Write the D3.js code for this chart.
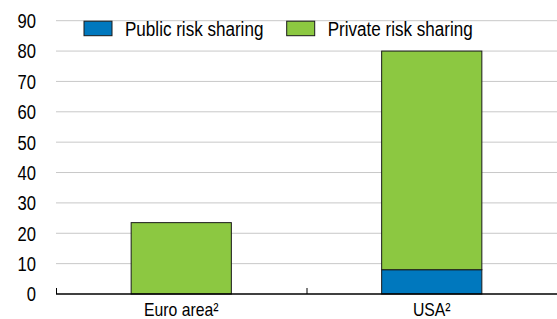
<!DOCTYPE html>
<html>
<head>
<meta charset="utf-8">
<script src="https://cdn.jsdelivr.net/npm/d3@7"></script>
<style>
  body { margin: 0; background: #fff; }
  text { font-family: "Liberation Sans", Arial, sans-serif; fill: #000; }
</style>
</head>
<body>
<div id="chart"></div>
<script>
var categories = ["Euro area²", "USA²"];
var publicShare = [0, 8];
var privateShare = [23.5, 72];
var seriesNames = ["Public risk sharing", "Private risk sharing"];
var yTicks = [0, 10, 20, 30, 40, 50, 60, 70, 80, 90];

var svgWidth = 557;
var svgHeight = 319;
var margin = { top: 20.7, right: 0, bottom: 25, left: 56 };
var width = svgWidth - margin.left - margin.right;
var height = svgHeight - margin.top - margin.bottom;
var squeeze = 0.83; // the original lettering is narrow

var svg = d3.select("#chart")
    .append("svg")
    .attr("width", svgWidth)
    .attr("height", svgHeight);

var g = svg.append("g")
    .attr("transform", `translate(${margin.left}, ${margin.top})`);

var xScale = d3.scaleBand()
    .domain(categories)
    .range([0, width])
    .paddingInner(0.6)
    .paddingOuter(0.3);

var xOuter = d3.scaleBand()
    .domain(categories)
    .range([0, width]);

var yScale = d3.scaleLinear()
    .domain([0, 90])
    .range([height, 0]);

// gridlines
g.selectAll(".grid")
    .data(yTicks.filter(d => d > 0))
    .enter()
    .append("line")
    .attr("x1", 0)
    .attr("x2", width)
    .attr("y1", d => yScale(d))
    .attr("y2", d => yScale(d))
    .attr("stroke", "#c8c8c8")
    .attr("stroke-width", 1);

// y labels
g.selectAll(".ylab")
    .data(yTicks)
    .enter()
    .append("text")
    .attr("transform", d => `translate(-20, ${yScale(d)}) scale(0.81, 1)`)
    .attr("dy", "0.36em")
    .attr("text-anchor", "end")
    .attr("font-size", 20.5)
    .text(d => d);

// stacked bars
var rows = categories.map((c, i) => ({ cat: c, pub: publicShare[i], priv: privateShare[i] }));

g.selectAll(".pub")
    .data(rows.filter(d => d.pub > 0))
    .enter()
    .append("rect")
    .attr("x", d => xScale(d.cat))
    .attr("width", xScale.bandwidth())
    .attr("y", d => yScale(d.pub))
    .attr("height", d => yScale(0) - yScale(d.pub))
    .attr("fill", "#0078be")
    .attr("stroke", "#1a1a1a")
    .attr("stroke-width", 1);

g.selectAll(".priv")
    .data(rows)
    .enter()
    .append("rect")
    .attr("x", d => xScale(d.cat))
    .attr("width", xScale.bandwidth())
    .attr("y", d => yScale(d.pub + d.priv))
    .attr("height", d => yScale(d.pub) - yScale(d.pub + d.priv))
    .attr("fill", "#8cc841")
    .attr("stroke", "#1a1a1a")
    .attr("stroke-width", 1);

// x axis
g.append("line")
    .attr("x1", 0)
    .attr("x2", width)
    .attr("y1", height)
    .attr("y2", height)
    .attr("stroke", "#000")
    .attr("stroke-width", 1.5);

var tickPos = [0].concat(categories.slice(1).map(c => xOuter(c)));
g.selectAll(".xtick")
    .data(tickPos)
    .enter()
    .append("line")
    .attr("x1", d => d + 0.5)
    .attr("x2", d => d + 0.5)
    .attr("y1", height)
    .attr("y2", height - 6)
    .attr("stroke", "#000")
    .attr("stroke-width", 1);

g.selectAll(".xlab")
    .data(categories)
    .enter()
    .append("text")
    .attr("transform", d => `translate(${xOuter(d) + xOuter.bandwidth() / 2}, ${height + 22}) scale(${squeeze}, 1)`)
    .attr("text-anchor", "middle")
    .attr("font-size", 19)
    .text(d => d);

// legend
var legendX = [28, 230.7];
var colors = ["#0078be", "#8cc841"];
var legend = g.selectAll(".legend")
    .data(seriesNames)
    .enter()
    .append("g")
    .attr("transform", (d, i) => `translate(${legendX[i]}, 0.5)`);

legend.append("rect")
    .attr("width", 28)
    .attr("height", 14.5)
    .attr("fill", (d, i) => colors[i])
    .attr("stroke", "#1a1a1a")
    .attr("stroke-width", 1);

legend.append("text")
    .attr("transform", `translate(41, 7.5) scale(0.875, 1)`)
    .attr("dy", "0.36em")
    .attr("font-size", 19.5)
    .text(d => d);
</script>
</body>
</html>
